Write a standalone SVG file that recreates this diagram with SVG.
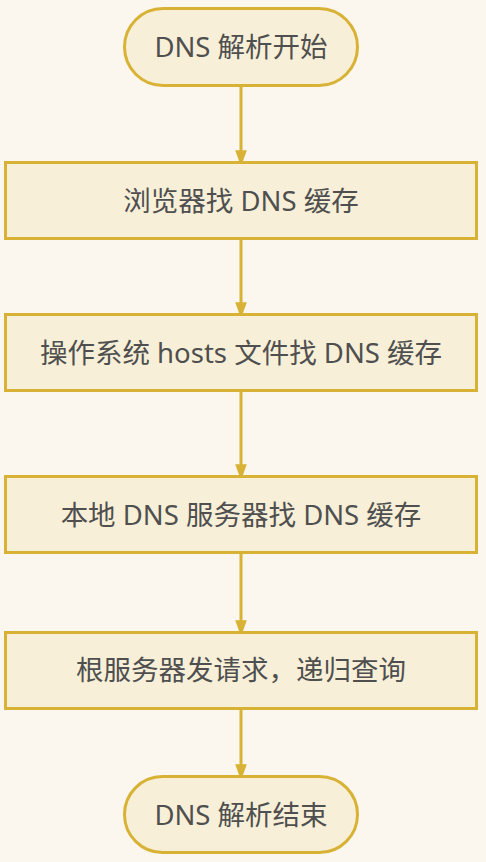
<svg xmlns="http://www.w3.org/2000/svg" width="486" height="862" viewBox="0 0 486 862">
<style>
.n{fill:#F8EFD8;stroke:#D8B234;stroke-width:3}
.t{font-family:"Noto Sans","Noto Sans CJK SC",sans-serif;font-size:27.5px;fill:#4F4F4F;text-anchor:middle;dominant-baseline:central}
.c{stroke:#D8B234;stroke-width:3;fill:none}
</style>
<defs>
<marker id="ah" markerWidth="16" markerHeight="22" refX="16" refY="8" orient="auto" markerUnits="userSpaceOnUse" viewBox="0 0 22 16">
<path d="M0,0 L22,8 L0,16 Z" fill="#D8B234"/>
</marker>
</defs>
<rect width="486" height="862" fill="#FBF6EE"/>
<g id="connectors">
<line class="c" x1="241" y1="86" x2="241" y2="162" marker-end="url(#ah)"/>
<line class="c" x1="241" y1="239" x2="241" y2="314" marker-end="url(#ah)"/>
<line class="c" x1="241" y1="390" x2="241" y2="476" marker-end="url(#ah)"/>
<line class="c" x1="241" y1="552" x2="241" y2="632" marker-end="url(#ah)"/>
<line class="c" x1="241" y1="708" x2="241" y2="776" marker-end="url(#ah)"/>
</g>
<g id="start">
<rect class="n" x="124.5" y="8.5" width="233" height="77" rx="38.5"/>
<text class="t" x="241" y="46">DNS 解析开始</text>
</g>
<g id="browser">
<rect class="n" x="5.5" y="162.5" width="471" height="76"/>
<text class="t" x="241" y="200">浏览器找 DNS 缓存</text>
</g>
<g id="hosts">
<rect class="n" x="5.5" y="314.5" width="471" height="76"/>
<text class="t" x="241" y="352">操作系统 hosts 文件找 DNS 缓存</text>
</g>
<g id="local">
<rect class="n" x="5.5" y="476.5" width="471" height="76"/>
<text class="t" x="241" y="514">本地 DNS 服务器找 DNS 缓存</text>
</g>
<g id="root">
<rect class="n" x="5.5" y="632.5" width="471" height="76"/>
<text class="t" x="241" y="669">根服务器发请求，递归查询</text>
</g>
<g id="end">
<rect class="n" x="124.5" y="776.5" width="233" height="76" rx="38"/>
<text class="t" x="241" y="814">DNS 解析结束</text>
</g>
</svg>
